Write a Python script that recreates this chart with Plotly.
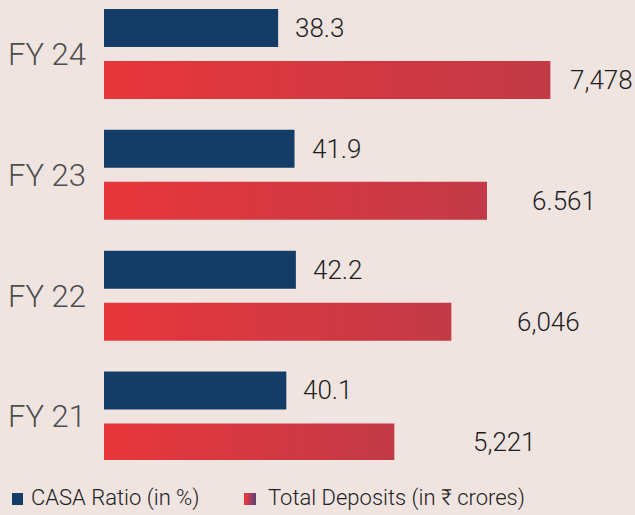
import plotly.graph_objects as go

# ---- data ----
years = ["FY 21", "FY 22", "FY 23", "FY 24"]
casa_ratio = [40.1, 42.2, 41.9, 38.3]
total_deposits = [5221, 6046, 6561, 7478]
deposit_labels = ["5,221", "6,046", "6.561", "7,478"]
casa_labels = ["40.1", "42.2", "41.9", "38.3"]

# ---- styles ----
W, H = 635, 515
ML, MR, MT, MB = 104, 0, 0, 55
PW, PH = W - ML - MR, H - MT - MB
BG = "#f0e4e1"
BLUE = "#133c66"
RED_L, RED_R = "#e8363b", "#c23a47"
FONT = "Roboto"
deposit_label_shift = [77, 64, 43, 18]

unit = 120.83  # px per category
bar_w = 38 / unit
blue_off = 7 / unit
red_off = -45 / unit

X2_MIN = 1022
X2_MAX = X2_MIN + PW / 0.06914

pos = list(range(len(years)))

fig = go.Figure()
fig.add_trace(go.Bar(
    y=pos, x=casa_ratio, orientation="h", name="CASA Ratio (in %)",
    marker=dict(color=BLUE, line=dict(width=0)),
    width=bar_w, offset=blue_off, xaxis="x", yaxis="y", showlegend=False,
    hoverinfo="skip"))

# Total deposits bars: filled rectangles with a horizontal gradient (on x2 scale)
for p, v in zip(pos, total_deposits):
    y0, y1 = p + red_off, p + red_off + bar_w
    fig.add_trace(go.Scatter(
        x=[0, v, v, 0, 0], y=[y0, y0, y1, y1, y0], mode="lines",
        line=dict(width=0), fill="toself", xaxis="x2", yaxis="y",
        fillgradient=dict(type="horizontal", start=X2_MIN, stop=v,
                          colorscale=[[0, RED_L], [1, RED_R]]),
        name="Total Deposits (in ₹ crores)", showlegend=False, hoverinfo="skip"))

annotations = []
for p, v, t in zip(pos, casa_ratio, casa_labels):
    annotations.append(dict(x=v, y=p, xref="x", yref="y", text=t, showarrow=False,
                            xanchor="left", yanchor="middle", xshift=15, yshift=26,
                            font=dict(family=FONT, size=26, color="#1e1e1e", weight=300)))
for p, v, t, s in zip(pos, total_deposits, deposit_labels, deposit_label_shift):
    annotations.append(dict(x=v, y=p, xref="x2", yref="y", text=t, showarrow=False,
                            xanchor="left", yanchor="middle", xshift=s, yshift=-26,
                            font=dict(family=FONT, size=26, color="#1e1e1e", weight=300)))


def px_x(px):
    return (px - ML) / PW


def px_y(px):
    return 1 - (px - MT) / PH


# custom legend
shapes = [dict(type="rect", xref="paper", yref="paper",
               x0=px_x(12), x1=px_x(23), y0=px_y(505), y1=px_y(493),
               fillcolor=BLUE, line=dict(width=0), layer="above")]
grad = ["#e8363b", "#d5394a", "#bb3b55", "#9f3d60", "#823e69", "#66406f"]
for i, c in enumerate(grad):
    shapes.append(dict(type="rect", xref="paper", yref="paper",
                       x0=px_x(244 + 2 * i), x1=px_x(246 + 2 * i),
                       y0=px_y(505), y1=px_y(493),
                       fillcolor=c, line=dict(width=0), layer="above"))
annotations.append(dict(x=px_x(29), y=px_y(498), xref="paper", yref="paper",
                        text="CASA Ratio (in %)", showarrow=False, xanchor="left",
                        yanchor="middle",
                        font=dict(family=FONT, size=22, color="#222222", weight=300)))
annotations.append(dict(x=px_x(266), y=px_y(498), xref="paper", yref="paper",
                        text="Total Deposits (in ₹ crores)", showarrow=False,
                        xanchor="left", yanchor="middle",
                        font=dict(family=FONT, size=22, color="#222222", weight=300)))

top = 3 + 54 / unit
bottom = top - PH / unit

fig.update_layout(
    width=W, height=H,
    margin=dict(l=ML, r=MR, t=MT, b=MB, pad=0),
    paper_bgcolor=BG, plot_bgcolor=BG,
    barmode="overlay",
    xaxis=dict(range=[0, PW / 4.547], visible=False, fixedrange=True),
    xaxis2=dict(range=[X2_MIN, X2_MAX], overlaying="x", visible=False,
                fixedrange=True),
    yaxis=dict(range=[bottom, top], tickvals=pos, ticktext=years,
               showgrid=False, zeroline=False, showline=False, ticks="",
               ticklabelstandoff=17, automargin=False, fixedrange=True,
               tickfont=dict(family=FONT, size=31, color="#4e4e4e", weight=300)),
    annotations=annotations,
    shapes=shapes,
    showlegend=False,
)

fig.write_html("out.html", config={"displayModeBar": False},
               post_script="document.body.style.margin='0';document.body.style.overflow='hidden';")
